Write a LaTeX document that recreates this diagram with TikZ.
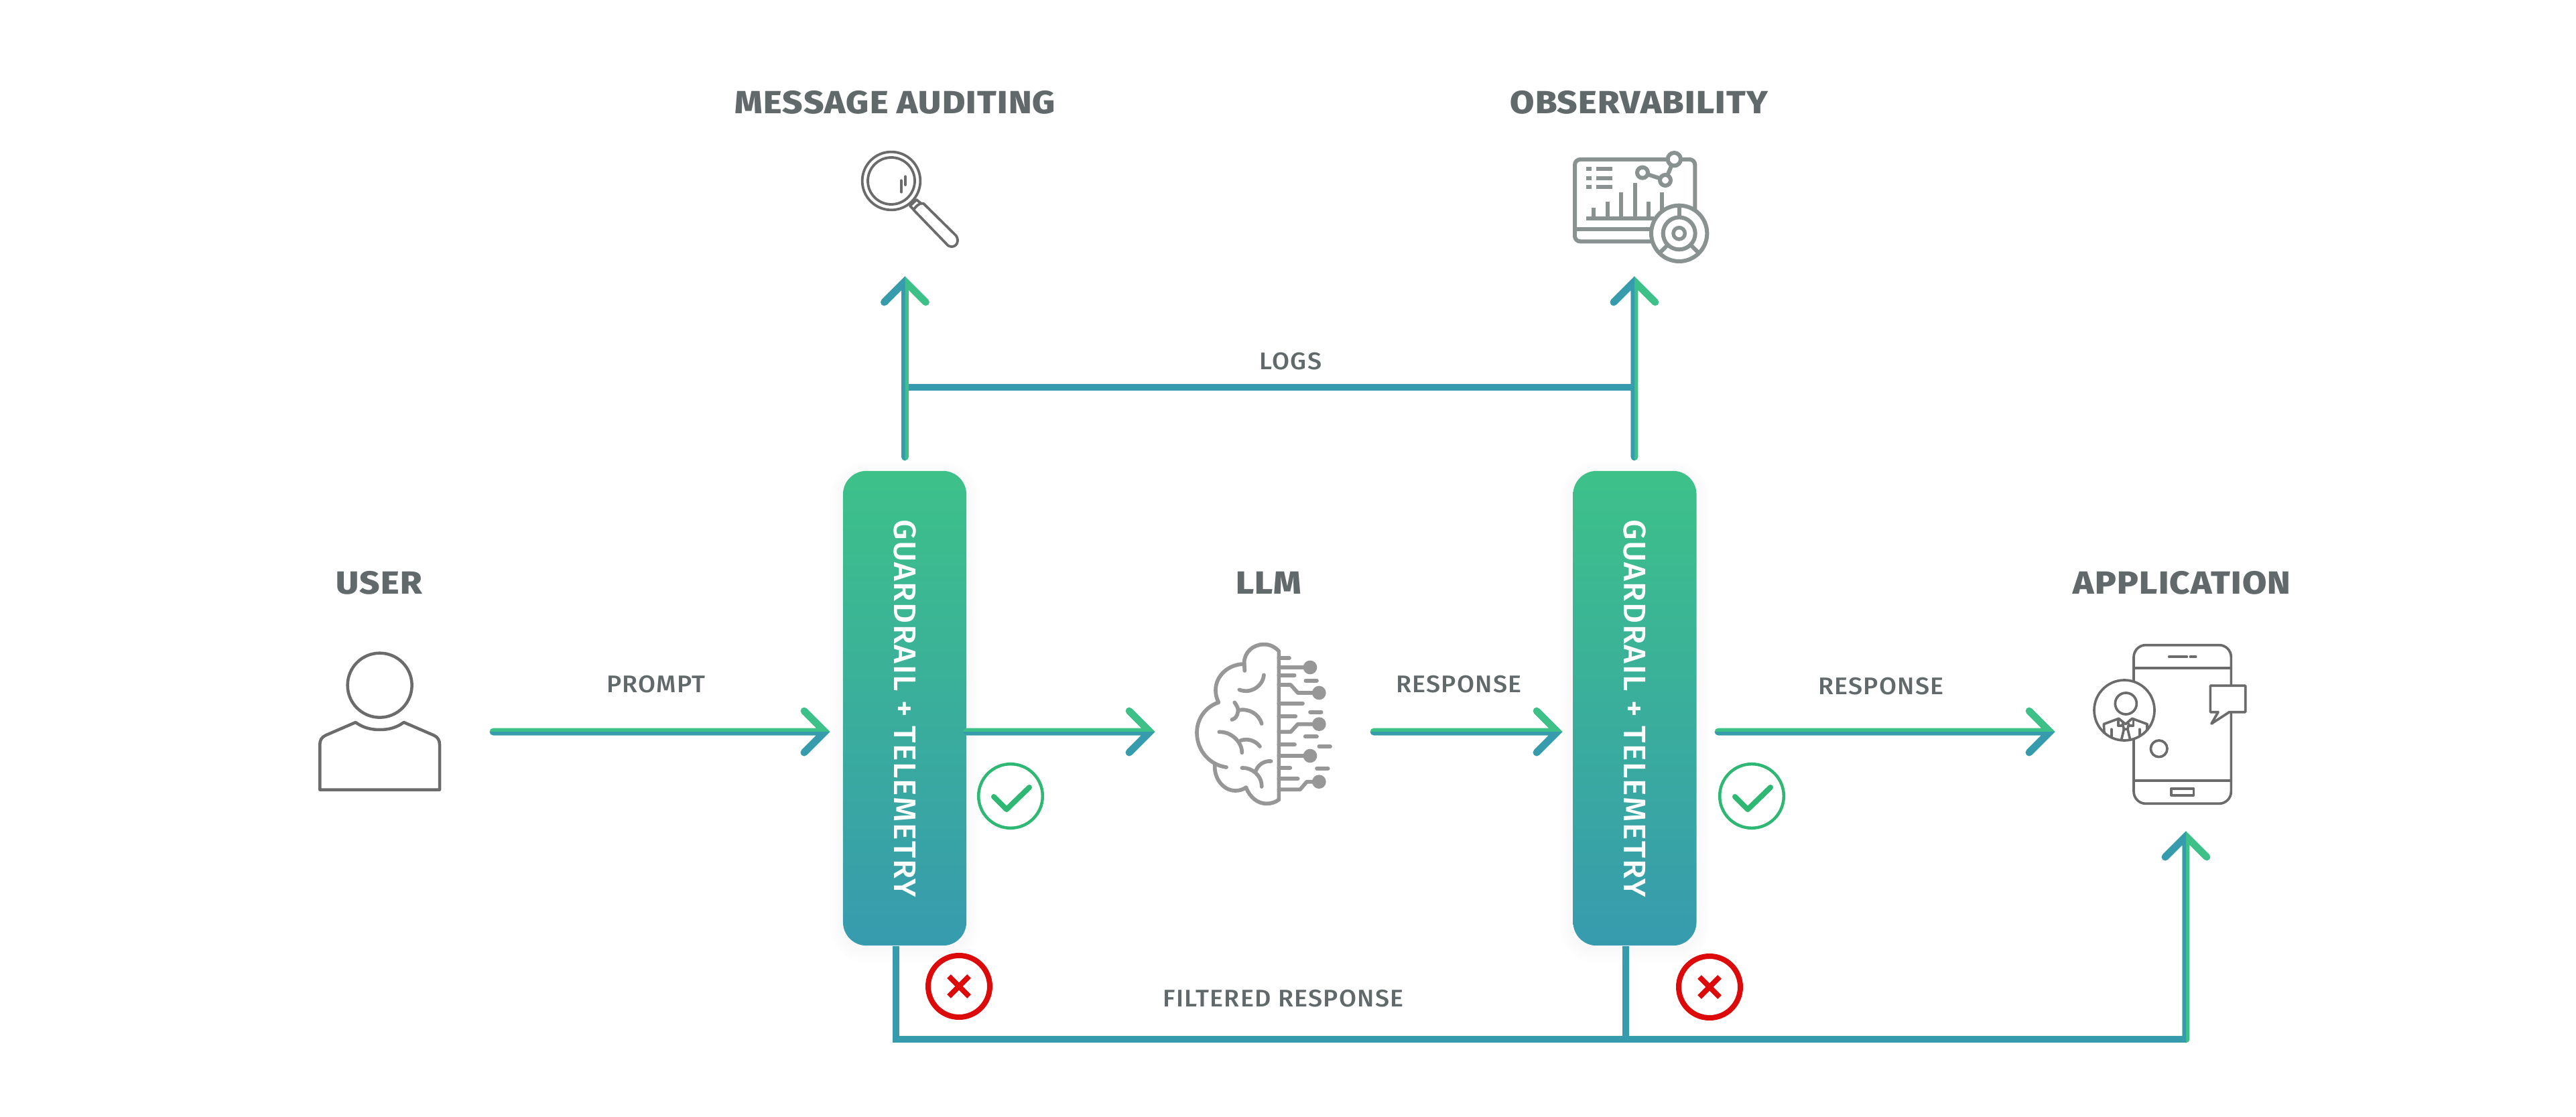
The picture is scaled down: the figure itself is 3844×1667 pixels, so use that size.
\documentclass[tikz,border=0pt]{standalone}
\usepackage{fontspec}
\setmainfont{Fira Sans}
\newfontfamily\headfont{Fira Sans}[UprightFont=* ExtraBold,FakeStretch=1.1,LetterSpace=2.6]
\newfontfamily\labfont{Fira Sans}[UprightFont=* Medium,FakeStretch=1.05,LetterSpace=3.5]
\newfontfamily\guardfont{Fira Sans}[UprightFont=* Medium,FakeStretch=1.03,LetterSpace=3.2]
\usetikzlibrary{calc}
\definecolor{gGreen}{HTML}{3DC189}
\definecolor{gTeal}{HTML}{379BAE}
\definecolor{txtGray}{HTML}{62696B}
\definecolor{icoDark}{HTML}{6B6B6B}
\definecolor{icoObs}{HTML}{8A9191}
\definecolor{icoBrain}{HTML}{979797}
\definecolor{okGreen}{HTML}{2FB873}
\definecolor{noRed}{HTML}{DC0A0A}
\tikzset{
  heading/.style={font=\headfont\fontsize{13.6}{16}\selectfont,text=txtGray,inner sep=0pt},
  edgelabel/.style={font=\labfont\fontsize{10.2}{12}\selectfont,text=txtGray,inner sep=0pt},
  guardbox/.style={minimum width=1.84cm,minimum height=7.08cm,inner sep=0pt,rounded corners=0.35cm,top color=gGreen,bottom color=gTeal,draw=none},
  guardtext/.style={font=\guardfont\fontsize{13.2}{16}\selectfont,text=white,inner sep=0pt,rotate=-90},
  flowline/.style={line width=0.107cm,line cap=round,line join=miter,miter limit=4},
  plainline/.style={draw=gTeal,line width=0.10cm,line join=miter},
  okring/.style={draw=okGreen,line width=0.045cm},
  noring/.style={draw=noRed,line width=0.08cm},
  zoomed/.style={x=0.01cm/3,y=-0.01cm/3},
}
\newcommand{\harrow}[2]{%
  \draw[flowline,gGreen] (#1) -- (#2) ($(#2)+(-31,-31)$) -- (#2) -- ($(#2)+(-31,31)$);
  \begin{scope}
    \clip ($(#1)+(-20,0)$) rectangle ($(#2)+(20,50)$);
    \draw[flowline,gTeal] (#1) -- (#2) ($(#2)+(-31,-31)$) -- (#2) -- ($(#2)+(-31,31)$);
  \end{scope}}
\newcommand{\varrow}[2]{%
  \draw[flowline,gGreen] (#1) -- (#2) ($(#2)+(-31,31)$) -- (#2) -- ($(#2)+(31,31)$);
  \begin{scope}
    \clip ($(#2)+(-50,-20)$) rectangle ($(#1)+(0,20)$);
    \draw[flowline,gTeal] (#1) -- (#2) ($(#2)+(-31,31)$) -- (#2) -- ($(#2)+(31,31)$);
  \end{scope}}
\newcommand{\boxshadow}[1]{%
  \foreach \s/\c in {18/0.6,14/1.0,10/1.4,6/1.9,3/2.4}{
    \fill[black!\c,rounded corners=0.35cm+\s*0.01cm] ($(#1.south west)+(-\s,\s+6)$) rectangle ($(#1.north east)+(\s,-\s+6)$);
  }}
\begin{document}
\begin{tikzpicture}[x=0.01cm,y=-0.01cm]
\useasboundingbox (0,0) rectangle (3844,1667);
\fill[white] (0,0) rectangle (3844,1667);

% coordinates
\coordinate (boxA) at (1350,1057);
\coordinate (boxB) at (2439.5,1057);
\coordinate (promptS) at (736,1092);
\coordinate (promptT) at (1231,1092);
\coordinate (llmT) at (1716,1092);
\coordinate (respS) at (2050,1092);
\coordinate (respT) at (2324,1092);
\coordinate (appS) at (2564,1092);
\coordinate (appT) at (3059,1092);
\coordinate (audS) at (1350.5,682);
\coordinate (audT) at (1350.5,420);
\coordinate (audJ) at (1350.5,578);
\coordinate (obsS) at (2439,682);
\coordinate (obsT) at (2439,420);
\coordinate (obsJ) at (2439,578);
\coordinate (botA) at (1337,1551);
\coordinate (botB) at (2426,1551);
\coordinate (botC) at (3262,1551);
\coordinate (upT) at (3262,1248);

% guard boxes: shadows first
\path (boxA) node[minimum width=1.84cm,minimum height=7.08cm,inner sep=0pt] (shA) {};
\path (boxB) node[minimum width=1.84cm,minimum height=7.08cm,inner sep=0pt] (shB) {};
\boxshadow{shA}
\boxshadow{shB}

% bottom and logs lines
\draw[plainline] (shA.south -| botA) -- (botA) -- (botC);
\draw[plainline] (shB.south -| botB) -- (botB);
\draw[plainline] (audJ) -- (obsJ);

\node[guardbox] (guardA) at (boxA) {};
\node[guardbox] (guardB) at (boxB) {};
\node[guardtext] (guardAt) at (1351,1057) {GUARDRAIL + TELEMETRY};
\node[guardtext] (guardBt) at (2440,1057) {GUARDRAIL + TELEMETRY};

% flow arrows
\coordinate (llmS) at (guardA.east |- promptS);
\harrow{promptS}{promptT}
\harrow{llmS}{llmT}
\harrow{respS}{respT}
\harrow{appS}{appT}
\varrow{audS}{audT}
\varrow{obsS}{obsT}
\varrow{botC}{upT}

% headings
\node[heading] (hAudit) at (1336,153) {MESSAGE AUDITING};
\node[heading] (hObs) at (2446,153) {OBSERVABILITY};
\node[heading] (hUser) at (566,870) {USER};
\node[heading] (hLLM) at (1893,870) {LLM};
\node[heading] (hApp) at (3256,870) {APPLICATION};

% edge labels
\node[edgelabel] (lPrompt) at (979,1021) {PROMPT};
\node[edgelabel] (lResp) at (2177,1021) {RESPONSE};
\node[edgelabel] (lResp2) at (2807,1024) {RESPONSE};
\node[edgelabel] (lLogs) at (1926,539) {LOGS};
\node[edgelabel] (lFilt) at (1915,1490) {FILTERED RESPONSE};

% check marks
\foreach \cx/\cy in {1508/1188,2614/1188}{
  \draw[okring] (\cx,\cy) circle (47.8);
  \draw[okGreen,line width=0.08cm,line cap=round,line join=round] ($(\cx,\cy)+(-25,1)$) -- ($(\cx,\cy)+(-6,20)$) -- ($(\cx,\cy)+(28,-13)$);
}
% crosses
\foreach \cx/\cy in {1431/1472,2551/1473}{
  \draw[noring] (\cx,\cy) circle (46);
  \draw[noRed,line width=0.08cm] ($(\cx,\cy)+(-15,-15)$) -- ($(\cx,\cy)+(15,15)$) ($(\cx,\cy)+(-15,15)$) -- ($(\cx,\cy)+(15,-15)$);
}

% user icon
\begin{scope}[shift={(440,940)},zoomed,draw=icoDark,line width=0.045cm,line join=round]
  \draw (380,248) circle (144);
  \draw (272,414) .. controls (305,438) and (340,447) .. (380,447) .. controls (420,447) and (455,438) .. (488,414)
     -- (622,472) .. controls (640,480) and (648,495) .. (648,512) -- (648,716) -- (112,716) -- (112,512)
     .. controls (112,495) and (120,480) .. (138,472) -- cycle;
\end{scope}

% magnifier icon
\begin{scope}[shift={(1200,100)},zoomed,draw=icoDark,line width=0.038cm,line cap=round,line join=round]
  \draw (390,510) circle (130);
  \draw (390,510) circle (105);
  \draw (435,508) -- (435,560);
  \draw (453,490) -- (453,528);
  \draw (474,622) -- (492,640);
  \draw (503,594) -- (522,610);
  \draw (474,622) -- (503,594);
  \draw (490,640) -- (635,790) .. controls (650,810) and (672,810) .. (684,790) .. controls (690,775) and (686,765) .. (680,755) -- (535,612) .. controls (525,605) and (500,620) .. (490,640) -- cycle;
\end{scope}

% observability icon
\begin{scope}[shift={(2250,100)},zoomed,draw=icoObs,line width=0.06cm]
  \draw[rounded corners=0.08cm] (300,414) rectangle (838,781);
  \draw (300,727) -- (660,727);
  \foreach \y in {456,497,538}{
    \fill[icoObs] (350,\y-9) rectangle (375,\y+9);
    \fill[icoObs] (395,\y-9) rectangle (468,\y+9);
  }
  \draw (350,677) -- (655,677);
  \foreach \x/\t in {385/630,447/602,508/561,569/520,630/602,691/561}{
    \draw (\x,\t) -- (\x,677);
  }
  \draw (603,473) -- (705,507) -- (745,413);
  \draw[fill=white] (745,413) circle (29);
  \draw[fill=white] (603,473) circle (24);
  \draw[fill=white] (705,507) circle (24);
  \draw[fill=white] (767,745) circle (125);
  \draw (767,745) circle (72);
  \draw[line width=0.055cm] (767,745) circle (26);
  \draw (767,620) -- (767,673);
  \draw (678,834) -- (716,796);
  \draw (856,834) -- (818,796);
\end{scope}

% brain icon
\begin{scope}[shift={(1740,920)},zoomed,draw=icoBrain,line width=0.057cm,line cap=round,line join=round]
  \draw (505,820) -- (505,155) .. controls (485,135) and (465,125) .. (438,125) .. controls (390,125) and (350,160) .. (350,208) -- (352,243);
  \draw (350,213) .. controls (280,213) and (222,265) .. (222,330) .. controls (222,350) and (226,365) .. (235,385)
     .. controls (175,405) and (138,460) .. (138,520) .. controls (138,600) and (195,665) .. (270,675);
  \draw (218,665) .. controls (215,730) and (260,780) .. (310,780) .. controls (330,780) and (345,775) .. (358,765)
     .. controls (375,810) and (410,838) .. (450,838) .. controls (470,838) and (490,832) .. (505,820);
  \draw (438,262) .. controls (435,305) and (385,350) .. (328,328);
  \draw (307,385) .. controls (318,400) and (325,415) .. (322,425) .. controls (320,445) and (310,458) .. (295,462);
  \draw (322,420) .. controls (370,410) and (415,435) .. (428,480);
  \draw (238,517) .. controls (290,515) and (340,560) .. (340,610);
  \draw (335,555) .. controls (365,545) and (400,555) .. (420,582);
  \draw (340,678) .. controls (380,675) and (430,710) .. (428,762);
  \draw (403,690) .. controls (410,665) and (440,645) .. (470,648);
  \foreach \y/\e in {186/552,263/575,389/612,447/580,574/576,678/556,727/590}{
    \draw (505,\y) -- (\e,\y);
  }
  \draw (505,228) -- (645,228);
  \draw (505,306) -- (558,306) -- (590,342) -- (685,342);
  \draw (505,517) -- (558,517) -- (590,482) -- (685,482);
  \draw (505,624) -- (645,624);
  \draw (505,775) -- (600,775) -- (630,740) -- (685,740);
  \foreach \x/\y in {645/228,685/342,685/482,645/624,685/740}{
    \fill[icoBrain] (\x,\y) circle (31);
  }
  \draw (625,287) -- (675,287);
  \draw (645,428) -- (695,428);
  \draw (623,538) -- (675,538);
  \draw (685,582) -- (735,582);
  \draw (675,680) -- (725,680);
\end{scope}

% phone icon
\begin{scope}[shift={(3080,920)},zoomed,draw=icoDark,line width=0.037cm,line cap=round,line join=round]
  \draw[rounded corners=0.18cm] (312,128) rectangle (748,838);
  \draw (312,232) -- (748,232);
  \draw (312,735) -- (748,735);
  \draw (470,181) -- (550,181);
  \draw (565,181) -- (590,181);
  \draw (480,770) rectangle (580,800);
  \draw (425,592) circle (37);
  \draw[fill=white] (655,310) -- (812,310) -- (812,428) -- (740,428) -- (660,480) -- (690,428) -- (655,428) -- cycle;
  \draw[fill=white] (270,420) circle (135);
  \draw (277,390) circle (48);
  \begin{scope}
    \clip (270,420) circle (133);
    \draw (178,482) -- (245,457) -- (275,482) -- (305,457) -- (372,482);
    \draw (178,482) -- (180,520);
    \draw (372,482) -- (372,520);
    \draw (243,460) -- (243,490) -- (262,490);
    \draw (310,460) -- (310,490) -- (290,490);
    \draw (262,480) -- (268,505) -- (285,505) -- (290,480);
    \draw (268,505) -- (255,560);
    \draw (285,505) -- (298,560);
    \draw (212,505) -- (212,560);
    \draw (338,505) -- (338,560);
  \end{scope}
\end{scope}
\end{tikzpicture}
\end{document}
